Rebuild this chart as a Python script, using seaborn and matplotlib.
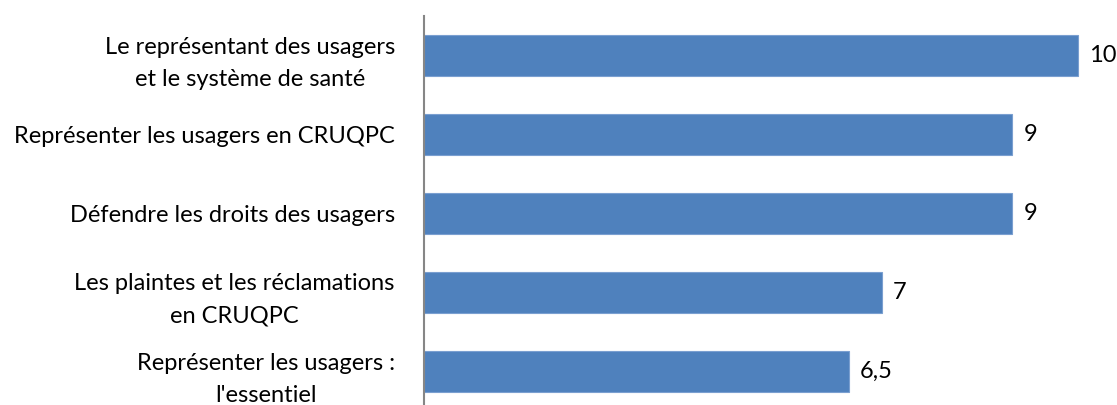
import matplotlib
matplotlib.use("Agg")
import matplotlib.pyplot as plt
import seaborn as sns
import pandas as pd

# data
categories = [
    "Le représentant des usagers\net le système de santé",
    "Représenter les usagers en CRUQPC",
    "Défendre les droits des usagers",
    "Les plaintes et les réclamations\nen CRUQPC",
    "Représenter les usagers :\nl'essentiel",
]
values = [10, 9, 9, 7, 6.5]

BAR_COLOR = "#4F81BD"
AXIS_COLOR = "#868686"

sns.set_theme(style="white")
plt.rcParams["font.family"] = ["Lato", "DejaVu Sans"]

W, H = 1117, 405
fig = plt.figure(figsize=(W / 100, H / 100), dpi=100)
ax = fig.add_axes([424 / W, 0, 1 - 424 / W, 1 - 16 / H])

df = pd.DataFrame({"cat": categories, "val": values})
sns.barplot(data=df, x="val", y="cat", color=BAR_COLOR, width=0.53,
            saturation=1, edgecolor="#7A9FD0", linewidth=0.8, ax=ax)

ax.set_xlim(0, 10.6)
ax.set_ylim(-0.5 + 389 / 79, -0.5)
ax.set_xlabel("")
ax.set_ylabel("")
ax.set_xticks([])
for s in ["top", "right", "bottom"]:
    ax.spines[s].set_visible(False)
ax.spines["left"].set_color(AXIS_COLOR)
ax.spines["left"].set_linewidth(1.5)
ax.tick_params(axis="y", length=0, pad=21, labelsize=17, labelcolor="black")
for lab in ax.get_yticklabels():
    lab.set_multialignment("center")
    lab.set_linespacing(1.65)

for i, v in enumerate(values):
    txt = f"{v:g}".replace(".", ",")
    ax.annotate(txt, xy=(v, i), xytext=(8, 0), textcoords="offset points",
                ha="left", va="center", fontsize=17, color="black",
                annotation_clip=False)

fig.savefig("out.png", dpi=100)
plt.close(fig)
